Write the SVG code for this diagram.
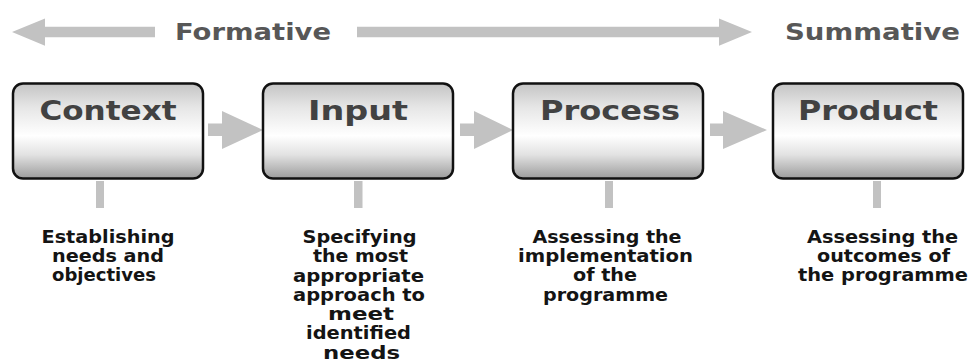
<svg xmlns="http://www.w3.org/2000/svg" width="973" height="361" viewBox="0 0 973 361">
  <defs>
    <linearGradient id="boxGrad" x1="0" y1="0" x2="0" y2="1">
      <stop offset="0" stop-color="#c4c4c4"/>
      <stop offset="0.25" stop-color="#e6e6e6"/>
      <stop offset="0.55" stop-color="#ffffff"/>
      <stop offset="0.75" stop-color="#e2e2e2"/>
      <stop offset="1" stop-color="#9c9c9c"/>
    </linearGradient>
  </defs>
  <style>
    .box { fill: url(#boxGrad); stroke: #111; stroke-width: 2.5; }
    .title { font-family: "DejaVu Sans", Verdana, sans-serif; font-weight: bold; font-size: 26.5px; fill: #424242; text-anchor: middle; }
    .desc { font-family: "DejaVu Sans", Verdana, sans-serif; font-weight: bold; font-size: 17px; fill: #141414; text-anchor: middle; }
    .phase { font-family: "DejaVu Sans", Verdana, sans-serif; font-weight: bold; font-size: 23.5px; fill: #575757; }
    .arrow { fill: #c2c2c2; }
  </style>
  <rect width="973" height="361" fill="#ffffff"/>

  <g id="phase-banner">
    <polygon class="arrow" points="12,32 45,18.5 45,26.7 155,26.7 155,37.3 45,37.3 45,45.7"/>
    <polygon class="arrow" points="357,26.7 719,26.7 719,18.5 752,32 719,45.7 719,37.3 357,37.3"/>
    <text class="phase" x="175" y="40" textLength="156" lengthAdjust="spacingAndGlyphs">Formative</text>
    <text class="phase" x="785" y="40" textLength="175" lengthAdjust="spacingAndGlyphs">Summative</text>
  </g>

  <g id="connectors">
    <polygon class="arrow" points="208,123.5 222,123.5 222,111 263,130 222,149 222,136 208,136"/>
    <polygon class="arrow" points="460,123.5 474,123.5 474,111 513,130 474,149 474,136 460,136"/>
    <polygon class="arrow" points="710,123.5 723,123.5 723,111 767,130 723,149 723,136 710,136"/>
    <rect class="arrow" x="96" y="181" width="8" height="27"/>
    <rect class="arrow" x="354" y="181" width="8.5" height="27"/>
    <rect class="arrow" x="605" y="181" width="8" height="27"/>
    <rect class="arrow" x="873" y="181" width="8" height="27"/>
  </g>

  <g id="node-context">
    <rect class="box" x="13" y="83.5" width="190" height="95" rx="10"/>
    <text class="title" x="108" y="119.5" textLength="137" lengthAdjust="spacingAndGlyphs">Context</text>
    <text class="desc" x="108" y="242.5" textLength="133" lengthAdjust="spacingAndGlyphs">Establishing</text>
    <text class="desc" x="108" y="261.75" textLength="112" lengthAdjust="spacingAndGlyphs">needs and</text>
    <text class="desc" x="104" y="281" textLength="104" lengthAdjust="spacingAndGlyphs">objectives</text>
  </g>

  <g id="node-input">
    <rect class="box" x="263" y="83.5" width="190" height="95" rx="10"/>
    <text class="title" x="358" y="119.5" textLength="100" lengthAdjust="spacingAndGlyphs">Input</text>
    <text class="desc" x="359.5" y="243" textLength="114" lengthAdjust="spacingAndGlyphs">Specifying</text>
    <text class="desc" x="360.5" y="262.25" textLength="95" lengthAdjust="spacingAndGlyphs">the most</text>
    <text class="desc" x="358.5" y="281.5" textLength="131" lengthAdjust="spacingAndGlyphs">appropriate</text>
    <text class="desc" x="359" y="300.75" textLength="132" lengthAdjust="spacingAndGlyphs">approach to</text>
    <text class="desc" x="361" y="320" textLength="66" lengthAdjust="spacingAndGlyphs">meet</text>
    <text class="desc" x="358.5" y="339.25" textLength="105" lengthAdjust="spacingAndGlyphs">identified</text>
    <text class="desc" x="361.5" y="358.5" textLength="77" lengthAdjust="spacingAndGlyphs">needs</text>
  </g>

  <g id="node-process">
    <rect class="box" x="513" y="83.5" width="190" height="95" rx="10"/>
    <text class="title" x="610" y="119.5" textLength="140" lengthAdjust="spacingAndGlyphs">Process</text>
    <text class="desc" x="607" y="242.5" textLength="149" lengthAdjust="spacingAndGlyphs">Assessing the</text>
    <text class="desc" x="605.5" y="261.75" textLength="175" lengthAdjust="spacingAndGlyphs">implementation</text>
    <text class="desc" x="605" y="281" textLength="64" lengthAdjust="spacingAndGlyphs">of the</text>
    <text class="desc" x="605.5" y="300.5" textLength="125" lengthAdjust="spacingAndGlyphs">programme</text>
  </g>

  <g id="node-product">
    <rect class="box" x="773" y="83.5" width="190" height="95" rx="10"/>
    <text class="title" x="868" y="119.5" textLength="140" lengthAdjust="spacingAndGlyphs">Product</text>
    <text class="desc" x="882.5" y="242.5" textLength="151" lengthAdjust="spacingAndGlyphs">Assessing the</text>
    <text class="desc" x="883.5" y="261.75" textLength="133" lengthAdjust="spacingAndGlyphs">outcomes of</text>
    <text class="desc" x="883" y="281" textLength="170" lengthAdjust="spacingAndGlyphs">the programme</text>
  </g>
</svg>
